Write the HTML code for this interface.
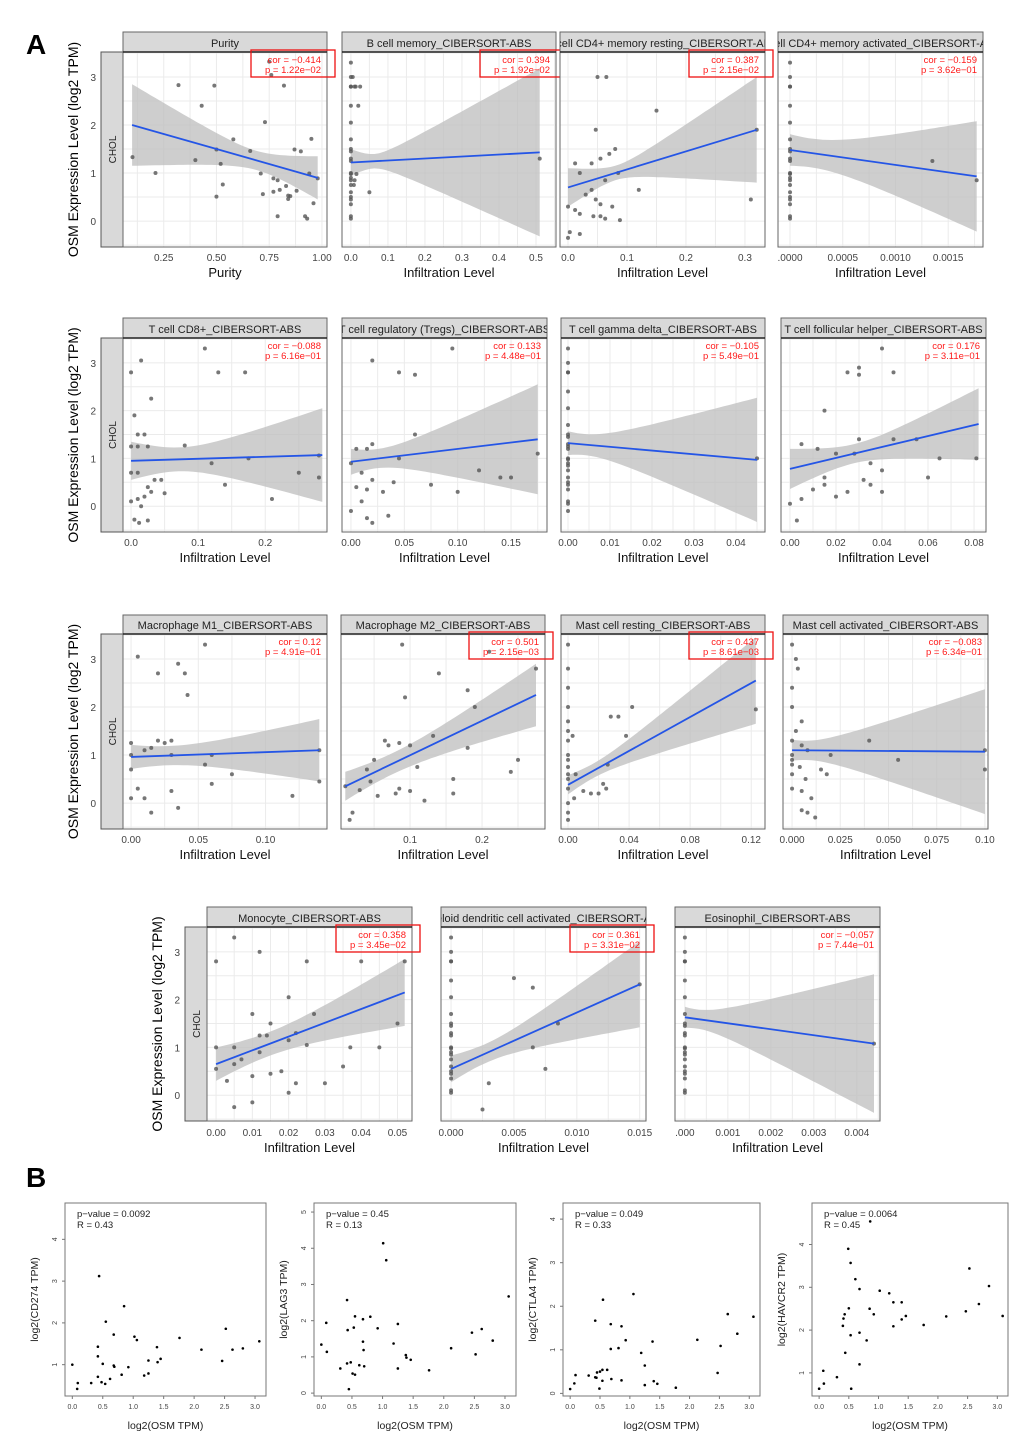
<!DOCTYPE html>
<html><head><meta charset="utf-8"><style>
html,body{margin:0;padding:0;background:#fff;}
svg{display:block;font-family:"Liberation Sans",sans-serif;}
</style></head><body>
<svg id="fig" width="1020" height="1440" viewBox="0 0 1020 1440" xmlns="http://www.w3.org/2000/svg">
<text x="26" y="54" font-size="28" font-weight="bold">A</text>
<text x="26" y="1187" font-size="28" font-weight="bold">B</text>
</svg>
<script>
// ---------- Panel A data ----------
const titles = ["Purity","B cell memory_CIBERSORT-ABS","T cell CD4+ memory resting_CIBERSORT-ABS","T cell CD4+ memory activated_CIBERSORT-ABS",
"T cell CD8+_CIBERSORT-ABS","T cell regulatory (Tregs)_CIBERSORT-ABS","T cell gamma delta_CIBERSORT-ABS","T cell follicular helper_CIBERSORT-ABS",
"Macrophage M1_CIBERSORT-ABS","Macrophage M2_CIBERSORT-ABS","Mast cell resting_CIBERSORT-ABS","Mast cell activated_CIBERSORT-ABS",
"Monocyte_CIBERSORT-ABS","Myeloid dendritic cell activated_CIBERSORT-ABS","Eosinophil_CIBERSORT-ABS"];
const corVals = ["−0.414","0.394","0.387","−0.159","−0.088","0.133","−0.105","0.176","0.12","0.501","0.437","−0.083","0.358","0.361","−0.057"];
const pVals = ["1.22e−02","1.92e−02","2.15e−02","3.62e−01","6.16e−01","4.48e−01","5.49e−01","3.11e−01","4.91e−01","2.15e−03","8.61e−03","6.34e−01","3.45e−02","3.31e−02","7.44e−01"];
const significant = [1,1,1,0,0,0,0,0,0,1,1,0,1,1,0];
const xDomains = [[0.057,1.024],[-0.024,0.554],[-0.0136,0.334],[-0.000114,0.00183],
[-0.012,0.292],[-0.0084,0.1837],[-0.00167,0.0469],[-0.0039,0.0852],
[-0.006,0.1457],[0.004,0.2875],[-0.0046,0.129],[-0.0047,0.1016],
[-0.0025,0.054],[-0.0008,0.0155],[-0.00023,0.00454]];
const xTicks = [[0.25,0.5,0.75,1.0],[0,0.1,0.2,0.3,0.4,0.5],[0,0.1,0.2,0.3],[0,0.0005,0.001,0.0015],
[0,0.1,0.2],[0,0.05,0.1,0.15],[0,0.01,0.02,0.03,0.04],[0,0.02,0.04,0.06,0.08],
[0,0.05,0.1],[0.1,0.2],[0,0.04,0.08,0.12],[0,0.025,0.05,0.075,0.1],
[0,0.01,0.02,0.03,0.04,0.05],[0,0.005,0.01,0.015],[0,0.001,0.002,0.003,0.004]];
const xTickLabels = [["0.25","0.50","0.75","1.00"],["0.0","0.1","0.2","0.3","0.4","0.5"],["0.0","0.1","0.2","0.3"],[".0000","0.0005","0.0010","0.0015"],
["0.0","0.1","0.2"],["0.00","0.05","0.10","0.15"],["0.00","0.01","0.02","0.03","0.04"],["0.00","0.02","0.04","0.06","0.08"],
["0.00","0.05","0.10"],["0.1","0.2"],["0.00","0.04","0.08","0.12"],["0.000","0.025","0.050","0.075","0.10"],
["0.00","0.01","0.02","0.03","0.04","0.05"],["0.000","0.005","0.010","0.015"],[".000","0.001","0.002","0.003","0.004"]];
const xLabels = ["Purity","Infiltration Level","Infiltration Level","Infiltration Level","Infiltration Level","Infiltration Level","Infiltration Level","Infiltration Level","Infiltration Level","Infiltration Level","Infiltration Level","Infiltration Level","Infiltration Level","Infiltration Level","Infiltration Level"];
// fit: [xStart, yStart, xEnd, yEnd]
const fits = [[0.1,2.0,0.98,0.9],[0,1.22,0.51,1.43],[0,0.7,0.32,1.9],[0,1.48,0.00177,0.93],
[0,0.95,0.285,1.07],[0,0.93,0.175,1.4],[0,1.32,0.045,0.97],[0,0.78,0.082,1.72],
[0,0.96,0.14,1.1],[0.01,0.35,0.275,2.25],[0,0.38,0.123,2.55],[0,1.1,0.1,1.07],
[0,0.65,0.052,2.15],[0,0.55,0.015,2.32],[0,1.63,0.0044,1.08]];
// confidence half-widths: [left, minimum, right]
const bandWidths = [[0.85,0.2,0.45],[0.28,0.15,1.75],[0.4,0.15,1.1],[0.33,0.3,1.15],
[0.4,0.25,0.98],[0.27,0.2,1.15],[0.25,0.22,1.3],[0.42,0.2,0.75],
[0.25,0.2,0.65],[0.3,0.22,0.65],[0.2,0.15,0.9],[0.22,0.2,1.3],
[0.35,0.25,0.7],[0.28,0.2,0.9],[0.22,0.2,1.45]];
const zeroY = [3.3,3.0,2.8,2.8,2.4,2.05,1.7,1.5,1.45,1.3,1.25,1.0,0.98,0.9,0.85,0.75,0.6,0.5,0.45,0.35,0.1,0.05];
const pts1 = [[0.102,1.33],[0.211,1.0],[0.32,2.83],[0.43,2.4],[0.40,1.27],[0.49,2.82],[0.5,1.49],[0.52,1.19],[0.53,0.76],[0.5,0.51],[0.58,1.7],[0.66,1.46],[0.73,2.06],[0.71,0.99],[0.72,0.56],[0.75,3.32],[0.76,3.04],[0.82,2.82],[0.77,0.89],[0.79,0.85],[0.77,0.61],[0.8,0.65],[0.79,0.1],[0.83,0.73],[0.84,0.53],[0.85,0.52],[0.84,0.46],[0.87,1.49],[0.9,1.45],[0.88,0.63],[0.95,1.71],[0.94,0.99],[0.98,0.89],[0.96,0.37],[0.92,0.1],[0.93,0.05]];
const pts2 = [[0.005,3.0],[0.01,2.8],[0.013,2.8],[0.025,2.8],[0.02,2.4],[0.05,0.6],[0.51,1.3],[0.015,0.98],[0.01,0.85],[0.008,0.75]];
const pts3 = [[0.05,3.0],[0.065,3.0],[0.15,2.3],[0.047,1.9],[0.08,1.5],[0.07,1.4],[0.055,1.3],[0.04,1.2],[0.012,1.2],[0.02,1.0],[0.063,0.85],[0.085,1.0],[0.12,0.65],[0.04,0.65],[0.03,0.55],[0.047,0.45],[0.055,0.35],[0.075,0.3],[0,0.3],[0.012,0.23],[0.02,0.15],[0.043,0.1],[0.063,0.05],[0.088,0.02],[0.003,-0.23],[0.02,-0.27],[0.055,0.1],[0,-0.35],[0.31,0.45],[0.32,1.9]];
const pts4 = [[0.00135,1.25],[0.00177,0.85]];
const pts5 = [[0.015,3.05],[0.11,3.3],[0.03,2.25],[0.13,2.8],[0.17,2.8],[0.005,1.9],[0.01,1.5],[0.02,1.5],[0.01,1.25],[0.025,1.25],[0,1.25],[0,0.7],[0.01,0.7],[0.035,0.55],[0.045,0.55],[0.025,0.4],[0.02,0.2],[0.03,0.3],[0.05,0.27],[0,0.1],[0.01,0.15],[0.015,0],[0.005,-0.28],[0.012,-0.35],[0.025,-0.3],[0.08,1.27],[0.12,0.9],[0.14,0.45],[0.175,1.0],[0.21,0.15],[0.25,0.7],[0.28,0.6],[0.28,1.06],[0,2.8]];
const pts6 = [[0.02,3.05],[0.045,2.8],[0.06,2.75],[0.095,3.3],[0.06,1.5],[0.02,1.3],[0.005,1.2],[0.015,1.2],[0.045,1.0],[0,0.9],[0.01,0.7],[0.02,0.55],[0.04,0.5],[0.005,0.4],[0.015,0.35],[0.03,0.3],[0.01,0.1],[0,-0.1],[0.015,-0.25],[0.02,-0.35],[0.035,-0.2],[0.075,0.45],[0.1,0.3],[0.12,0.75],[0.14,0.6],[0.15,0.6],[0.175,1.1]];
const pts7 = [[0.045,1.0],[0,-0.1],[0,1.2]];
const pts8 = [[0.003,-0.3],[0,0.05],[0.005,0.15],[0.01,0.35],[0.015,0.45],[0.02,0.2],[0.025,0.3],[0.015,0.6],[0.005,1.3],[0.012,1.2],[0.02,1.1],[0.028,1.1],[0.045,1.4],[0.03,1.4],[0.015,2.0],[0.03,2.75],[0.025,2.8],[0.03,2.9],[0.04,3.3],[0.045,2.8],[0.06,0.6],[0.04,0.75],[0.035,0.45],[0.04,0.3],[0.055,1.4],[0.065,1.0],[0.035,0.9],[0.081,1.0],[0.032,0.55]];
const pts9 = [[0.005,3.05],[0.055,3.3],[0.035,2.9],[0.02,2.7],[0.04,2.7],[0.042,2.25],[0.02,1.3],[0.025,1.25],[0,1.0],[0.01,1.1],[0.015,1.15],[0.03,1.3],[0,0.7],[0.03,1.0],[0.06,1.0],[0.055,0.8],[0.005,0.3],[0,0.1],[0.01,0.1],[0.015,-0.2],[0.035,-0.1],[0.03,0.25],[0.06,0.4],[0.075,0.6],[0.12,0.15],[0.14,0.45],[0.14,1.1],[0,1.25]];
const pts10 = [[0.093,2.2],[0.089,3.3],[0.14,2.7],[0.18,2.35],[0.19,2.0],[0.21,3.15],[0.24,0.65],[0.25,0.9],[0.16,0.5],[0.16,0.2],[0.18,1.15],[0.065,1.3],[0.07,1.2],[0.085,1.25],[0.1,1.2],[0.11,0.75],[0.05,0.9],[0.04,0.7],[0.03,0.27],[0.02,-0.2],[0.016,-0.35],[0.055,0.15],[0.08,0.2],[0.085,0.3],[0.12,0.05],[0.275,2.8],[0.01,0.35],[0.045,0.45],[0.132,1.4],[0.1,0.25]];
const pts11 = [[0,3.3],[0,2.8],[0,2.4],[0,2.0],[0,1.7],[0,1.5],[0.003,1.4],[0,1.3],[0,1.0],[0,0.9],[0,0.75],[0,0.6],[0,0.5],[0,0.3],[0.004,0.1],[0,0],[0,-0.2],[0,-0.35],[0.01,0.25],[0.015,0.2],[0.02,0.2],[0.025,0.3],[0.005,0.6],[0.028,1.8],[0.033,1.8],[0.042,2.0],[0.038,1.4],[0.026,0.8],[0.023,0.4],[0.123,1.95]];
const pts12 = [[0,3.3],[0.002,3.0],[0.003,2.8],[0,2.4],[0,2.0],[0.005,1.7],[0.002,1.5],[0,1.3],[0.005,1.2],[0.008,1.1],[0,1.0],[0,0.9],[0,0.8],[0.004,0.75],[0,0.6],[0.007,0.5],[0,0.3],[0.005,0.25],[0.01,0.1],[0.005,-0.15],[0.008,-0.2],[0.012,-0.3],[0.015,0.7],[0.018,0.6],[0.02,1.0],[0.04,1.3],[0.055,0.9],[0.1,0.7],[0.1,1.1]];
const pts13 = [[0.005,3.3],[0.012,3.0],[0,2.8],[0.025,2.8],[0.04,2.8],[0.052,2.8],[0.02,2.05],[0.01,1.7],[0.027,1.7],[0.015,1.5],[0.022,1.3],[0.02,1.15],[0.025,1.05],[0,1.0],[0.012,1.25],[0.014,1.25],[0.007,0.75],[0.005,0.65],[0,0.55],[0.003,0.3],[0.01,0.4],[0.018,0.5],[0.02,0.05],[0.01,-0.15],[0.005,-0.25],[0.015,0.45],[0.03,0.25],[0.035,0.6],[0.037,1.0],[0.022,0.25],[0.005,1.0],[0.012,0.9],[0.045,1.0],[0.05,1.5]];
const pts14 = [[0.005,2.45],[0.0065,2.25],[0.0085,1.5],[0.0065,1.0],[0.0075,0.55],[0.003,0.25],[0.0025,-0.3],[0.015,2.32]];
const pts15 = [[0.0044,1.08]];
const pointSets = [pts1,pts2,pts3,pts4,pts5,pts6,pts7,pts8,pts9,pts10,pts11,pts12,pts13,pts14,pts15];
const zeroStacked = [0,1,0,1,0,0,1,0,0,0,0,0,0,1,1];
const yDomain = [-0.54,3.52];
const yTicks = [0,1,2,3];

// ---------- Panel B data ----------
const bGenes = ["CD274","LAG3","CTLA4","HAVCR2"];
const bPvals = ["0.0092","0.45","0.049","0.0064"];
const bRvals = ["0.43","0.13","0.33","0.45"];
const bYDomains = [[0.25,4.87],[-0.08,5.25],[-0.06,4.37],[0.46,4.97]];
const bYTicks = [[1,2,3,4],[0,1,2,3,4,5],[0,1,2,3,4],[1,2,3,4]];
const bXTicks = [0,0.5,1.0,1.5,2.0,2.5,3.0];
const bX1 = [0,0.09,0.08,0.31,0.44,0.42,0.42,0.42,0.5,0.48,0.55,0.54,0.62,0.68,0.68,0.69,0.85,0.81,0.92,1.02,1.06,1.18,1.25,1.25,1.39,1.4,1.45,1.76,2.12,2.46,2.52,2.63,2.8,3.07];
const bY1 = [1.0,0.56,0.42,0.56,3.12,1.43,1.2,0.71,1.02,0.58,2.03,0.54,0.66,1.72,0.98,0.95,2.4,0.76,0.94,1.67,1.59,0.74,0.79,1.1,1.42,1.06,1.14,1.64,1.36,1.09,1.86,1.36,1.39,1.56];
const bX2 = [0,0.08,0.09,0.31,0.42,0.43,0.42,0.45,0.48,0.51,0.55,0.53,0.55,0.62,0.68,0.68,0.69,0.7,0.8,0.92,1.01,1.06,1.18,1.25,1.25,1.38,1.39,1.46,1.76,2.12,2.46,2.52,2.62,2.8,3.06];
const bY2 = [1.34,1.94,1.14,0.68,2.57,1.74,0.82,0.11,0.85,0.54,0.51,1.81,2.12,0.77,2.04,1.42,1.19,0.74,2.11,1.79,4.14,3.67,1.37,1.91,0.68,1.05,0.98,0.92,0.63,1.24,1.67,1.07,1.77,1.45,2.67];
const bX3 = [0,0.07,0.09,0.31,0.42,0.42,0.44,0.45,0.49,0.5,0.54,0.54,0.55,0.62,0.68,0.68,0.69,0.81,0.86,0.86,0.93,1.06,1.19,1.25,1.25,1.38,1.4,1.46,1.77,2.13,2.47,2.52,2.64,2.8,3.07];
const bY3 = [0.1,0.23,0.42,0.41,1.67,0.37,0.36,0.48,0.11,0.5,0.54,0.29,2.15,0.54,1.59,1.02,0.33,1.04,1.54,0.3,1.22,2.28,0.93,0.64,0.19,1.19,0.28,0.22,0.13,1.23,0.47,1.09,1.82,1.37,1.76];
const bX4 = [0,0.07,0.08,0.3,0.4,0.41,0.43,0.44,0.49,0.5,0.53,0.53,0.54,0.61,0.68,0.68,0.68,0.8,0.85,0.86,0.92,1.02,1.18,1.25,1.25,1.39,1.39,1.46,1.76,2.14,2.47,2.53,2.69,2.86,3.09];
const bY4 = [0.63,1.05,0.75,0.9,2.1,2.27,2.37,1.47,3.9,2.51,3.57,1.88,0.63,3.19,2.96,1.94,1.2,1.76,2.5,4.54,2.37,2.92,2.86,2.65,2.09,2.65,2.25,2.33,2.12,2.32,2.44,3.44,2.61,3.03,2.33];
const bXs = [bX1,bX2,bX3,bX4];
const bYs = [bY1,bY2,bY3,bY4];

// ---------- layout ----------
const NS = "http://www.w3.org/2000/svg";
const svg = document.getElementById("fig");
function mk(tag, attrs, parent){ const e=document.createElementNS(NS,tag); for(const k in attrs) e.setAttribute(k,attrs[k]); (parent||svg).appendChild(e); return e; }
function txt(s, attrs, parent){ const e=mk("text",attrs,parent); e.textContent=s; return e; }

const rowGeo = [ {s:32,t:52,b:247,tick:261,lab:277,yl:78,chol:[101,123]},
 {s:318,t:338,b:532,tick:546,lab:562,yl:78,chol:[101,123]},
 {s:615,t:634,b:829,tick:843,lab:859,yl:78,chol:[101,123]},
 {s:907,t:927,b:1121,tick:1136,lab:1152,yl:162,chol:[185,207]} ];
const colX = [[[123,327],[342,556],[560,765],[778,983]],
 [[123,327],[342,547],[561,765],[781,986]],
 [[123,327],[341,545],[561,765],[783,988]],
 [[207,412],[441,646],[675,880]]];

let idx=0;
rowGeo.forEach((rg,ri)=>{
  // y axis title and CHOL strip and ticks
  const yl = txt("OSM Expression Level (log2 TPM)",{x:rg.yl,y:(rg.t+rg.b)/2,"font-size":14,"text-anchor":"middle",transform:`rotate(-90 ${rg.yl} ${(rg.t+rg.b)/2})`});
  
  
  const cs = mk("rect",{x:rg.chol[0],y:rg.t,width:rg.chol[1]-rg.chol[0],height:rg.b-rg.t,fill:"#d9d9d9",stroke:"#555","stroke-width":1});
  
  
  const cx=(rg.chol[0]+rg.chol[1])/2+4, cy=(rg.t+rg.b)/2;
  const ct = txt("CHOL",{x:cx,y:cy,"font-size":10,"text-anchor":"middle",transform:`rotate(-90 ${cx} ${cy})`,fill:"#222"});
  
  
  const sy0 = v=> rg.b - (v-yDomain[0])/(yDomain[1]-yDomain[0])*(rg.b-rg.t);
  yTicks.forEach(t=>{
    const tl = txt(String(t),{x:rg.chol[0]-5,y:sy0(t)+4,"font-size":10,"text-anchor":"end",fill:"#444"});
    
    
  });
  colX[ri].forEach((cxr)=>{
    const i=idx++;
    const x0=cxr[0],x1=cxr[1],y0=rg.t,y1=rg.b;
    const dx=xDomains[i];
    const sx=v=> x0+(v-dx[0])/(dx[1]-dx[0])*(x1-x0);
    const sy=sy0;
    const g=mk("g",{});
    
    
    const clipId="c"+i;
    const cp=mk("clipPath",{id:clipId},g); mk("rect",{x:x0,y:rg.s,width:x1-x0,height:y1-rg.s},cp);
    mk("rect",{x:x0,y:y0,width:x1-x0,height:y1-y0,fill:"#fff"},g);
    // grid
    const tks=xTicks[i];
    const step = tks.length>1 ? tks[1]-tks[0] : 0.1;
    for(let v=tks[0]-step*2; v<=dx[1]+step; v+=step/2){
      if(v<dx[0]||v>dx[1]) continue;
      mk("line",{x1:sx(v),x2:sx(v),y1:y0,y2:y1,stroke:"#ebebeb","stroke-width":1},g);
    }
    for(let v=-0.5; v<=3.5; v+=0.5){
      mk("line",{x1:x0,x2:x1,y1:sy(v),y2:sy(v),stroke:"#ebebeb","stroke-width":1},g);
    }
    // band
    const f=fits[i], bw=bandWidths[i];
    const xL=f[0],xR=f[2];
    const m=bw[1];
    const r=Math.sqrt(Math.max(bw[0]*bw[0]-m*m,0.0001)/Math.max(bw[2]*bw[2]-m*m,0.0001));
    const xc = xL+(xR-xL)*r/(1+r);
    const kk = (bw[2]*bw[2]-m*m)/Math.pow(xR-xc,2);
    const fy=v=> f[1]+(f[3]-f[1])*(v-xL)/(xR-xL);
    const hw=v=> Math.sqrt(m*m+kk*(v-xc)*(v-xc));
    let up=[],lo=[];
    for(let k=0;k<=40;k++){ const v=xL+(xR-xL)*k/40; up.push(sx(v).toFixed(1)+","+sy(fy(v)+hw(v)).toFixed(1)); lo.unshift(sx(v).toFixed(1)+","+sy(fy(v)-hw(v)).toFixed(1)); }
    const band=mk("polygon",{points:up.concat(lo).join(" "),fill:"#bdbdbd","fill-opacity":0.75,"clip-path":`url(#${clipId})`},g);
    
    
    // points
    const P = pointSets[i].slice();
    if(zeroStacked[i]) zeroY.forEach(y=>P.push([0,y]));
    P.forEach(p=>{
      const c=mk("circle",{cx:sx(p[0]),cy:sy(p[1]),r:2,fill:"#555","fill-opacity":0.8},g);
      
      
    });
    const ln=mk("line",{x1:sx(f[0]),y1:sy(f[1]),x2:sx(f[2]),y2:sy(f[3]),stroke:"#2455e6","stroke-width":1.8},g);
    
    
    mk("rect",{x:x0,y:y0,width:x1-x0,height:y1-y0,fill:"none",stroke:"#666","stroke-width":1},g);
    // strip
    const st=mk("rect",{x:x0,y:rg.s,width:x1-x0,height:y0-rg.s,fill:"#d9d9d9",stroke:"#666","stroke-width":1},g);
    
    
    mk("line",{x1:x0,x2:x1,y1:y0,y2:y0,stroke:"#222","stroke-width":1.5},g);
    const tt=txt(titles[i],{x:(x0+x1)/2,y:y0-5,"font-size":11,"text-anchor":"middle",fill:"#222","clip-path":`url(#${clipId})`},g);
    
    
    // cor text
    const c1=txt("cor = "+corVals[i],{x:x1-6,y:y0+11,"font-size":9.5,"text-anchor":"end",fill:"#ff1a1a"},g);
    
    
    const c2=txt("p = "+pVals[i],{x:x1-6,y:y0+21,"font-size":9.5,"text-anchor":"end",fill:"#ff1a1a"},g);
    
    
    if(significant[i]){
      const rb=mk("rect",{x:x1-76,y:y0-2,width:84,height:27,fill:"none",stroke:"#ee1111","stroke-width":1.3},g);
      
      
    }
    // x ticks
    tks.forEach((t,k)=>{
      const xl=txt(xTickLabels[i][k],{x:sx(t),y:rg.tick,"font-size":10,"text-anchor":"middle",fill:"#444"},g);
      
      
    });
    const xt=txt(xLabels[i],{x:(x0+x1)/2,y:rg.lab,"font-size":13,"text-anchor":"middle",fill:"#111"},g);
    
    
  });
});

// ---------- Panel B ----------
const bBoxX = [[65,266],[314,516],[563,760],[812,1008]];
const bTop=1203, bBot=1396, bXDom=[-0.12,3.18];
bGenes.forEach((gname,i)=>{
  const g=mk("g",{});
  
  
  const x0=bBoxX[i][0],x1=bBoxX[i][1];
  const sx=v=> x0+(v-bXDom[0])/(bXDom[1]-bXDom[0])*(x1-x0);
  const yd=bYDomains[i];
  const sy=v=> bBot-(v-yd[0])/(yd[1]-yd[0])*(bBot-bTop);
  mk("rect",{x:x0,y:bTop,width:x1-x0,height:bBot-bTop,fill:"none",stroke:"#777","stroke-width":1},g);
  bXTicks.forEach(t=>{
    mk("line",{x1:sx(t),x2:sx(t),y1:bBot,y2:bBot+3,stroke:"#777"},g);
    const l=txt(t.toFixed(1),{x:sx(t),y:bBot+13,"font-size":7,"text-anchor":"middle",fill:"#444"},g);
    
    
  });
  bYTicks[i].forEach(t=>{
    mk("line",{x1:x0-3,x2:x0,y1:sy(t),y2:sy(t),stroke:"#777"},g);
    const yy=sy(t), xx=x0-8;
    const l=txt(String(t),{x:xx,y:yy,"font-size":7,"text-anchor":"middle",fill:"#444",transform:`rotate(-90 ${xx} ${yy})`},g);
    
    
  });
  const t1=txt("p−value = "+bPvals[i],{x:x0+12,y:bTop+14,"font-size":9.5,fill:"#222"},g);
  
  
  const t2=txt("R = "+bRvals[i],{x:x0+12,y:bTop+25,"font-size":9.5,fill:"#222"},g);
  
  
  const xt=txt("log2(OSM TPM)",{x:(x0+x1)/2,y:1429,"font-size":10.5,"text-anchor":"middle",fill:"#222"},g);
  
  
  const lx=x0-27, ly=(bTop+bBot)/2;
  const ytl=txt("log2("+gname+" TPM)",{x:lx,y:ly,"font-size":10.5,"text-anchor":"middle",fill:"#222",transform:`rotate(-90 ${lx} ${ly})`},g);
  
  
  bXs[i].forEach((xv,k)=>{
    const c=mk("circle",{cx:sx(xv),cy:sy(bYs[i][k]),r:1.3,fill:"#000"},g);
    
    
  });
});
</script>
</body></html>
